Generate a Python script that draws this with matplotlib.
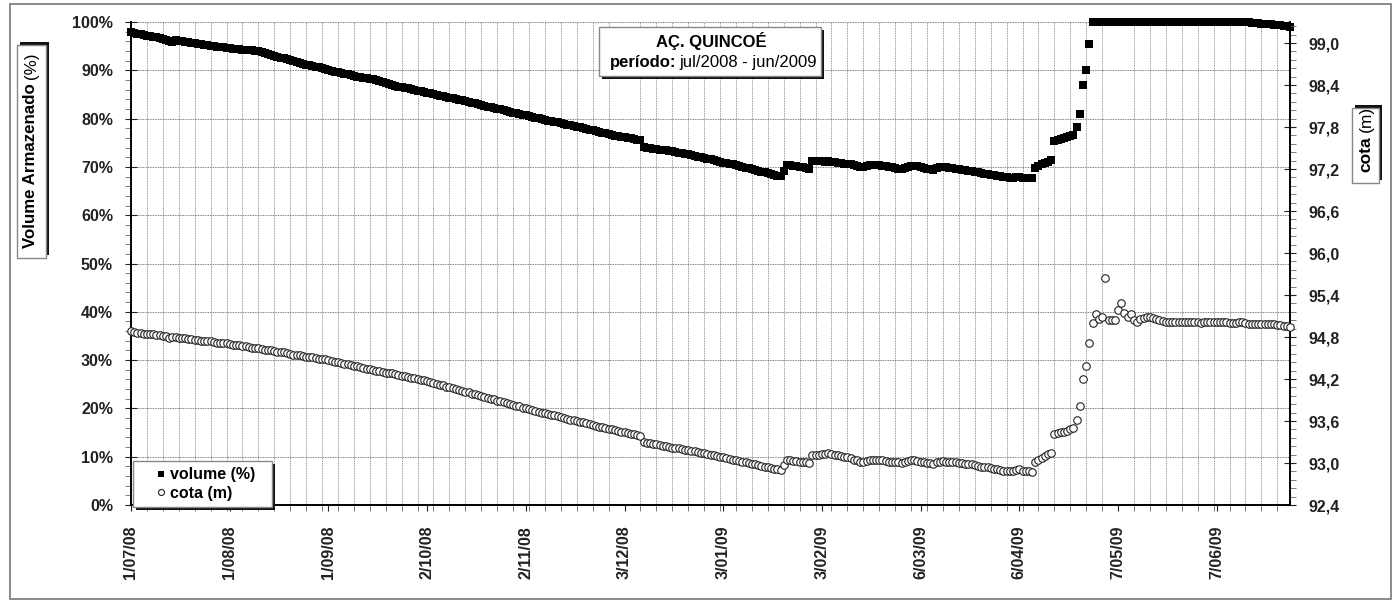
import numpy as np
import matplotlib
matplotlib.use('Agg')
import matplotlib.pyplot as plt
import matplotlib.dates as mdates
from matplotlib.patches import Rectangle
from matplotlib.ticker import FixedLocator, MultipleLocator, FuncFormatter

plt.rcParams['font.family'] = ['Liberation Sans', 'DejaVu Sans']

# daily series, 1/07/2008 .. 30/06/2009
start_date = '2008-07-01'

volume = [
    98.0, 97.8, 97.6, 97.5, 97.3, 97.2, 97.1, 96.9, 96.8, 96.6,
    96.4, 96.2, 96.0, 95.9, 96.2, 96.1, 96.0, 95.9, 95.8, 95.7,
    95.6, 95.5, 95.4, 95.3, 95.2, 95.1, 95.0, 94.9, 94.9, 94.8,
    94.7, 94.6, 94.5, 94.4, 94.4, 94.3, 94.2, 94.2, 94.1, 94.0,
    93.9, 93.7, 93.5, 93.3, 93.1, 92.9, 92.8, 92.6, 92.5, 92.3,
    92.1, 91.9, 91.8, 91.6, 91.4, 91.2, 91.1, 90.9, 90.7, 90.6,
    90.4, 90.2, 90.1, 89.9, 89.7, 89.6, 89.4, 89.3, 89.2, 89.0,
    88.9, 88.7, 88.6, 88.5, 88.4, 88.3, 88.1, 88.0, 87.8, 87.6,
    87.4, 87.2, 87.0, 86.8, 86.6, 86.5, 86.4, 86.3, 86.1, 86.0,
    85.8, 85.7, 85.5, 85.3, 85.2, 85.0, 84.9, 84.7, 84.6, 84.5,
    84.3, 84.2, 84.0, 83.9, 83.8, 83.6, 83.5, 83.3, 83.2, 83.0,
    82.9, 82.7, 82.5, 82.4, 82.2, 82.0, 81.9, 81.7, 81.5, 81.4,
    81.2, 81.1, 81.0, 80.8, 80.7, 80.5, 80.4, 80.2, 80.1, 79.9,
    79.8, 79.6, 79.5, 79.3, 79.2, 79.0, 78.9, 78.7, 78.6, 78.4,
    78.3, 78.2, 78.0, 77.9, 77.7, 77.6, 77.4, 77.3, 77.1, 77.0,
    76.8, 76.7, 76.5, 76.4, 76.2, 76.1, 76.0, 75.9, 75.7, 75.6,
    75.5, 74.1, 74.0, 73.9, 73.8, 73.7, 73.6, 73.5, 73.4, 73.3,
    73.2, 73.0, 72.9, 72.8, 72.7, 72.6, 72.4, 72.3, 72.1, 72.0,
    71.9, 71.7, 71.6, 71.4, 71.3, 71.1, 70.9, 70.8, 70.6, 70.5,
    70.3, 70.1, 70.0, 69.8, 69.7, 69.5, 69.3, 69.2, 69.0, 68.9,
    68.7, 68.5, 68.4, 68.2, 68.1, 69.2, 70.4, 70.3, 70.2, 70.1,
    70.0, 69.9, 69.8, 69.6, 71.3, 71.3, 71.2, 71.2, 71.1, 71.2,
    71.1, 71.0, 70.9, 70.8, 70.7, 70.6, 70.5, 70.3, 70.2, 70.0,
    70.0, 70.1, 70.3, 70.4, 70.4, 70.3, 70.2, 70.1, 70.0, 69.9,
    69.8, 69.6, 69.5, 69.7, 69.9, 70.1, 70.2, 70.1, 69.9, 69.8,
    69.6, 69.5, 69.4, 69.7, 69.9, 70.0, 69.9, 69.8, 69.7, 69.6,
    69.5, 69.4, 69.3, 69.2, 69.1, 69.0, 68.9, 68.8, 68.6, 68.5,
    68.4, 68.3, 68.2, 68.1, 68.0, 67.9, 67.8, 67.7, 67.9, 67.9,
    67.8, 67.7, 67.7, 67.7, 69.8, 70.1, 70.5, 70.8, 71.1, 71.4,
    75.4, 75.6, 75.8, 76.0, 76.2, 76.4, 76.6, 78.3, 81.0, 87.0,
    90.1, 95.4, 100.0, 100.0, 100.0, 100.0, 100.0, 100.0, 100.0, 100.0,
    100.0, 100.0, 100.0, 100.0, 100.0, 100.0, 100.0, 100.0, 100.0, 100.0,
    100.0, 100.0, 100.0, 100.0, 100.0, 100.0, 100.0, 100.0, 100.0, 100.0,
    100.0, 100.0, 100.0, 100.0, 100.0, 100.0, 100.0, 100.0, 100.0, 100.0,
    100.0, 100.0, 100.0, 100.0, 100.0, 100.0, 100.0, 100.0, 100.0, 100.0,
    100.0, 99.9, 99.8, 99.7, 99.7, 99.6, 99.6, 99.5, 99.5, 99.4,
    99.4, 99.3, 99.2, 99.1, 99.0,
]

cota = [
    94.88, 94.87, 94.86, 94.86, 94.85, 94.85, 94.84, 94.84, 94.83, 94.83,
    94.82, 94.81, 94.79, 94.80, 94.80, 94.79, 94.79, 94.78, 94.77, 94.77,
    94.76, 94.76, 94.75, 94.75, 94.74, 94.74, 94.73, 94.72, 94.72, 94.71,
    94.71, 94.70, 94.69, 94.69, 94.68, 94.67, 94.67, 94.66, 94.65, 94.64,
    94.64, 94.63, 94.62, 94.61, 94.61, 94.60, 94.59, 94.58, 94.58, 94.57,
    94.56, 94.55, 94.55, 94.54, 94.53, 94.52, 94.52, 94.51, 94.50, 94.49,
    94.49, 94.48, 94.47, 94.46, 94.45, 94.44, 94.43, 94.42, 94.41, 94.40,
    94.39, 94.38, 94.37, 94.36, 94.35, 94.34, 94.33, 94.32, 94.31, 94.30,
    94.29, 94.29, 94.28, 94.27, 94.26, 94.25, 94.24, 94.23, 94.22, 94.21,
    94.20, 94.19, 94.18, 94.17, 94.16, 94.14, 94.13, 94.12, 94.11, 94.09,
    94.08, 94.07, 94.06, 94.04, 94.03, 94.02, 94.01, 93.99, 93.98, 93.97,
    93.96, 93.94, 93.93, 93.92, 93.91, 93.89, 93.88, 93.87, 93.86, 93.84,
    93.83, 93.82, 93.81, 93.79, 93.78, 93.77, 93.76, 93.75, 93.73, 93.72,
    93.71, 93.70, 93.69, 93.68, 93.67, 93.66, 93.64, 93.63, 93.62, 93.61,
    93.60, 93.59, 93.58, 93.57, 93.56, 93.55, 93.53, 93.52, 93.51, 93.50,
    93.49, 93.48, 93.47, 93.46, 93.45, 93.44, 93.43, 93.42, 93.41, 93.40,
    93.39, 93.30, 93.29, 93.28, 93.27, 93.27, 93.26, 93.25, 93.24, 93.23,
    93.22, 93.22, 93.21, 93.20, 93.19, 93.18, 93.17, 93.17, 93.16, 93.15,
    93.14, 93.13, 93.12, 93.11, 93.10, 93.09, 93.08, 93.07, 93.06, 93.05,
    93.04, 93.03, 93.02, 93.01, 93.00, 92.99, 92.98, 92.97, 92.96, 92.95,
    92.94, 92.93, 92.92, 92.91, 92.90, 92.97, 93.04, 93.04, 93.03, 93.03,
    93.02, 93.02, 93.01, 93.00, 93.12, 93.12, 93.12, 93.13, 93.13, 93.14,
    93.13, 93.12, 93.11, 93.10, 93.09, 93.08, 93.07, 93.05, 93.04, 93.02,
    93.02, 93.03, 93.04, 93.05, 93.05, 93.04, 93.04, 93.03, 93.02, 93.02,
    93.01, 93.01, 93.00, 93.02, 93.03, 93.04, 93.04, 93.03, 93.02, 93.01,
    93.00, 93.00, 92.99, 93.01, 93.02, 93.03, 93.02, 93.02, 93.01, 93.01,
    93.00, 93.00, 92.99, 92.98, 92.98, 92.97, 92.96, 92.95, 92.94, 92.94,
    92.93, 92.92, 92.91, 92.90, 92.89, 92.89, 92.88, 92.88, 92.90, 92.91,
    92.89, 92.88, 92.88, 92.87, 93.02, 93.04, 93.07, 93.10, 93.13, 93.15,
    93.41, 93.43, 93.44, 93.45, 93.46, 93.48, 93.50, 93.61, 93.81, 94.20,
    94.39, 94.72, 95.00, 95.13, 95.06, 95.09, 95.65, 95.04, 95.04, 95.04,
    95.19, 95.29, 95.14, 95.08, 95.13, 95.05, 95.02, 95.06, 95.07, 95.08,
    95.08, 95.07, 95.06, 95.04, 95.03, 95.02, 95.02, 95.02, 95.02, 95.01,
    95.01, 95.02, 95.02, 95.01, 95.01, 95.01, 95.00, 95.01, 95.02, 95.02,
    95.01, 95.01, 95.01, 95.01, 95.01, 95.00, 95.00, 95.00, 95.01, 95.01,
    95.00, 94.99, 94.99, 94.99, 94.99, 94.98, 94.98, 94.99, 94.98, 94.98,
    94.97, 94.97, 94.96, 94.96, 94.95,
]

tick_dates = ['2008-07-01', '2008-08-01', '2008-09-01', '2008-10-02',
              '2008-11-02', '2008-12-03', '2009-01-03', '2009-02-03',
              '2009-03-06', '2009-04-06', '2009-05-07', '2009-06-07']
tick_labels = ['1/07/08', '1/08/08', '1/09/08', '2/10/08', '2/11/08', '3/12/08',
               '3/01/09', '3/02/09', '6/03/09', '6/04/09', '7/05/09', '7/06/09']

assert len(volume) == len(cota) == 365

W, H = 1395, 601
fig = plt.figure(figsize=(W / 100, H / 100), dpi=100)


def fbox(x0, y0, x1, y1):
    # pixel box (y down) -> figure fraction rect
    return (x0 / W, 1 - y1 / H), (x1 - x0) / W, (y1 - y0) / H


def shadow_box(x0, y0, x1, y1, sx, sy):
    xy, w, h = fbox(x0 + sx, y0 + sy, x1 + sx, y1 + sy)
    fig.add_artist(Rectangle(xy, w, h, transform=fig.transFigure,
                             facecolor='#111111', edgecolor='none', zorder=5))
    xy, w, h = fbox(x0, y0, x1, y1)
    fig.add_artist(Rectangle(xy, w, h, transform=fig.transFigure,
                             facecolor='white', edgecolor='#888888', lw=1, zorder=6))


# outer frame
xy, w, h = fbox(10, 4, 1391, 599)
fig.add_artist(Rectangle(xy, w, h, transform=fig.transFigure, facecolor='none',
                         edgecolor='#777777', lw=1.2, zorder=1))

ax = fig.add_axes([131 / W, 1 - 505 / H, (1290 - 131) / W, (505 - 22) / H])
ax2 = ax.twinx()

start = np.datetime64(start_date)
days = start + np.arange(len(volume))
x0 = mdates.date2num(start)

ax.plot(days, volume, 's', color='black', ms=6.0, mew=0, clip_on=False, zorder=3,
        label='volume (%)')
ax2.plot(days, cota, 'o', mfc='white', mec='#222222', ms=5.4, mew=0.8, clip_on=False,
         zorder=3, label='cota (m)')

ax.set_xlim(x0, x0 + 364)
ax.set_ylim(0, 100)
ax2.set_ylim(92.4, 99.3)

ax.xaxis.set_major_locator(FixedLocator(mdates.date2num(np.array(tick_dates, dtype='datetime64[D]'))))
ax.set_xticklabels(tick_labels, rotation=90, fontsize=11.5, fontweight='bold')
ax.xaxis.set_minor_locator(FixedLocator(x0 + np.arange(0, 366, 5)))

ax.yaxis.set_major_locator(MultipleLocator(10))
ax.yaxis.set_minor_locator(MultipleLocator(2))
ax.yaxis.set_major_formatter(FuncFormatter(lambda v, p: f'{v:.0f}%'))
ax2.yaxis.set_major_locator(MultipleLocator(0.6))
ax2.yaxis.set_minor_locator(MultipleLocator(0.12))
ax2.yaxis.set_major_formatter(FuncFormatter(lambda v, p: f'{v:.1f}'.replace('.', ',') if v < 99.1 else ''))

for lab in ax.get_yticklabels() + ax2.get_yticklabels():
    lab.set_fontweight('bold')
ax.tick_params(axis='y', which='major', direction='inout', length=8, width=0.8, pad=9,
               labelsize=11.5, colors='#222222')
ax.tick_params(axis='y', which='minor', direction='out', length=4, width=0.6, color='#666666')
ax2.tick_params(axis='y', which='major', direction='inout', length=8, width=0.8, pad=9,
                labelsize=11.5, colors='#222222')
ax2.tick_params(axis='y', which='minor', direction='out', length=4, width=0.6, color='#666666')
ax.tick_params(axis='x', which='major', direction='out', length=4, width=0.8, pad=11,
               colors='#222222')
ax.tick_params(axis='x', which='minor', direction='out', length=4, width=0.6, color='#666666')

ax.grid(which='major', axis='y', color='#555555', lw=0.6, ls=(0, (1, 1)))
ax.grid(which='minor', axis='x', color='#777777', lw=0.6, ls=(0, (1, 1)))

for a in (ax, ax2):
    a.spines['top'].set_visible(False)
    for s in ('left', 'right', 'bottom'):
        a.spines[s].set_linewidth(1.2)
        a.spines[s].set_color('black')

# title box
shadow_box(599, 27, 821, 76, 3, 3)
fig.text(711 / W, 1 - 41 / H, 'AÇ. QUINCOÉ', ha='center', va='center',
         fontsize=12, fontweight='bold', zorder=7)
fig.text(676 / W, 1 - 62 / H, 'período:', ha='right', va='center',
         fontsize=12, fontweight='bold', zorder=7)
fig.text(679 / W, 1 - 62 / H, 'jul/2008 - jun/2009', ha='left', va='center',
         fontsize=12, zorder=7)

# axis titles
shadow_box(17, 45, 46, 258, 3, -3)
fig.text(31 / W, 1 - 83 / H, 'Volume Armazenado', rotation=90, ha='center', va='top',
         fontsize=12.2, fontweight='bold', zorder=7)
fig.text(31 / W, 1 - 79 / H, '(%)', rotation=90, ha='center', va='bottom',
         fontsize=12.2, zorder=7)

shadow_box(1352, 108, 1379, 183, 3, -3)
fig.text(1366 / W, 1 - 136 / H, 'cota', rotation=90, ha='center', va='top',
         fontsize=12.5, fontweight='bold', zorder=7)
fig.text(1366 / W, 1 - 132 / H, '(m)', rotation=90, ha='center', va='bottom',
         fontsize=12.5, zorder=7)

# legend
shadow_box(133, 461, 272, 507, 3, 3)
h1, l1 = ax.get_legend_handles_labels()
h2, l2 = ax2.get_legend_handles_labels()
leg = fig.legend(h1 + h2, l1 + l2, loc='center left', bbox_to_anchor=(148 / W, 1 - 484 / H),
                 frameon=False, handlelength=0.6, handletextpad=0.3, labelspacing=0.2,
                 borderpad=0, prop={'size': 11.5, 'weight': 'bold'}, markerscale=0.8)
leg.set_zorder(8)

fig.savefig('out.png', dpi=100)
